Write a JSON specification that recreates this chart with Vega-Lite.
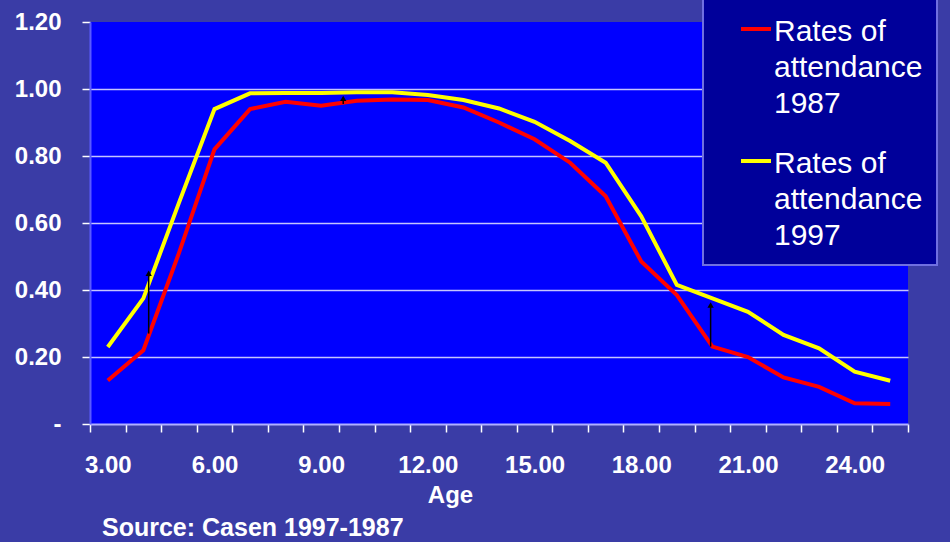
{
  "$schema": "https://vega.github.io/schema/vega-lite/v6.json",
  "autosize": "none",
  "width": 818,
  "height": 402,
  "padding": {"left": 90, "top": 22, "right": 42, "bottom": 118},
  "background": "#3a3ca6",
  "title": {
    "text": "Source: Casen 1997-1987",
    "orient": "bottom",
    "anchor": "start",
    "frame": "group",
    "dx": 12,
    "offset": 9,
    "font": "Liberation Sans",
    "fontSize": 25,
    "fontWeight": "bold",
    "color": "#ffffff"
  },
  "datasets": {
    "rates": [
      {"age": 3, "series": "Rates of attendance 1987", "rate": 0.13},
      {"age": 4, "series": "Rates of attendance 1987", "rate": 0.22},
      {"age": 5, "series": "Rates of attendance 1987", "rate": 0.51},
      {"age": 6, "series": "Rates of attendance 1987", "rate": 0.82},
      {"age": 7, "series": "Rates of attendance 1987", "rate": 0.94},
      {"age": 8, "series": "Rates of attendance 1987", "rate": 0.962},
      {"age": 9, "series": "Rates of attendance 1987", "rate": 0.95},
      {"age": 10, "series": "Rates of attendance 1987", "rate": 0.965},
      {"age": 11, "series": "Rates of attendance 1987", "rate": 0.969},
      {"age": 12, "series": "Rates of attendance 1987", "rate": 0.967},
      {"age": 13, "series": "Rates of attendance 1987", "rate": 0.945},
      {"age": 14, "series": "Rates of attendance 1987", "rate": 0.9},
      {"age": 15, "series": "Rates of attendance 1987", "rate": 0.85},
      {"age": 16, "series": "Rates of attendance 1987", "rate": 0.78},
      {"age": 17, "series": "Rates of attendance 1987", "rate": 0.68},
      {"age": 18, "series": "Rates of attendance 1987", "rate": 0.485},
      {"age": 19, "series": "Rates of attendance 1987", "rate": 0.385},
      {"age": 20, "series": "Rates of attendance 1987", "rate": 0.231},
      {"age": 21, "series": "Rates of attendance 1987", "rate": 0.2},
      {"age": 22, "series": "Rates of attendance 1987", "rate": 0.139},
      {"age": 23, "series": "Rates of attendance 1987", "rate": 0.111},
      {"age": 24, "series": "Rates of attendance 1987", "rate": 0.062},
      {"age": 25, "series": "Rates of attendance 1987", "rate": 0.06},
      {"age": 3, "series": "Rates of attendance 1997", "rate": 0.23},
      {"age": 4, "series": "Rates of attendance 1997", "rate": 0.375},
      {"age": 5, "series": "Rates of attendance 1997", "rate": 0.66},
      {"age": 6, "series": "Rates of attendance 1997", "rate": 0.94},
      {"age": 7, "series": "Rates of attendance 1997", "rate": 0.987},
      {"age": 8, "series": "Rates of attendance 1997", "rate": 0.988},
      {"age": 9, "series": "Rates of attendance 1997", "rate": 0.988},
      {"age": 10, "series": "Rates of attendance 1997", "rate": 0.99},
      {"age": 11, "series": "Rates of attendance 1997", "rate": 0.99},
      {"age": 12, "series": "Rates of attendance 1997", "rate": 0.982},
      {"age": 13, "series": "Rates of attendance 1997", "rate": 0.967},
      {"age": 14, "series": "Rates of attendance 1997", "rate": 0.942},
      {"age": 15, "series": "Rates of attendance 1997", "rate": 0.902},
      {"age": 16, "series": "Rates of attendance 1997", "rate": 0.845},
      {"age": 17, "series": "Rates of attendance 1997", "rate": 0.78},
      {"age": 18, "series": "Rates of attendance 1997", "rate": 0.62},
      {"age": 19, "series": "Rates of attendance 1997", "rate": 0.415},
      {"age": 20, "series": "Rates of attendance 1997", "rate": 0.375},
      {"age": 21, "series": "Rates of attendance 1997", "rate": 0.335},
      {"age": 22, "series": "Rates of attendance 1997", "rate": 0.266},
      {"age": 23, "series": "Rates of attendance 1997", "rate": 0.226},
      {"age": 24, "series": "Rates of attendance 1997", "rate": 0.156},
      {"age": 25, "series": "Rates of attendance 1997", "rate": 0.129}
    ],
    "arrows": [
      {"age": 4.15, "from": 0.27, "to": 0.45},
      {"age": 9.62, "from": 0.955, "to": 0.972},
      {"age": 19.95, "from": 0.231, "to": 0.355}
    ]
  },
  "layer": [
    {
      "data": {"name": "rates"},
      "mark": {"type": "line", "strokeWidth": 4},
      "encoding": {
        "x": {
          "field": "age",
          "type": "quantitative",
          "scale": {"domain": [2.5, 25.5], "nice": false, "zero": false},
          "axis": {
            "values": [2.5, 3.5, 4.5, 5.5, 6.5, 7.5, 8.5, 9.5, 10.5, 11.5, 12.5, 13.5, 14.5, 15.5, 16.5, 17.5, 18.5, 19.5, 20.5, 21.5, 22.5, 23.5, 24.5, 25.5],
            "tickCount": 40,
            "labelExpr": "(datum.value + 0.5) % 3 == 0 && datum.value < 25 ? format(datum.value + 0.5, '.2f') : ''",
            "labelOffset": 17.8,
            "labelOverlap": false,
            "labelFlush": false,
            "labelBaseline": "alphabetic",
            "labelPadding": 40,
            "tickSize": 8,
            "tickWidth": 1.5,
            "tickColor": "#ffffff",
            "domainColor": "#b0b0ff",
            "domainWidth": 2,
            "grid": false,
            "title": "Age",
            "titleX": 360,
            "titleY": 78,
            "titleAlign": "center",
            "titleBaseline": "alphabetic"
          }
        },
        "y": {
          "field": "rate",
          "type": "quantitative",
          "scale": {"domain": [0, 1.2], "nice": false},
          "axis": {
            "values": [0, 0.2, 0.4, 0.6, 0.8, 1.0, 1.2],
            "labelExpr": "datum.value == 0 ? '-\u2002' : format(datum.value, '.2f')",
            "labelFlush": false,
            "labelPadding": 21,
            "tickSize": 8,
            "tickWidth": 1.5,
            "tickColor": "#ffffff",
            "domainColor": "#5a5aff",
            "domainWidth": 2,
            "grid": true,
            "gridColor": "#c4c4ff",
            "gridWidth": 1.5,
            "gridOpacity": {"condition": {"test": "datum.value == 0 || datum.value >= 1.2", "value": 0}, "value": 1},
            "title": null
          }
        },
        "color": {
          "field": "series",
          "type": "nominal",
          "scale": {"domain": ["Rates of attendance 1987", "Rates of attendance 1997"], "range": ["#ff0000", "#ffff00"]},
          "legend": {
            "orient": "none",
            "legendX": 613,
            "legendY": -24,
            "title": null,
            "padding": 14,
            "fillColor": "#00009a",
            "strokeColor": "#7070e0",
            "symbolType": "stroke",
            "symbolSize": 900,
            "symbolStrokeWidth": 4,
            "symbolOffset": 22,
            "labelOffset": 1,
            "labelFont": "Liberation Sans",
            "labelFontSize": 30,
            "labelFontWeight": "normal",
            "labelColor": "#ffffff",
            "labelLimit": 400,
            "rowPadding": 25,
            "labelExpr": "['Rates of', 'attendance', slice(datum.label, -4)]",
            "encode": {
              "legend": {
                "update": {
                  "strokeWidth": {"value": 2}
                }
              },
              "labels": {
                "update": {
                  "baseline": {"value": "top"},
                  "dy": {"value": -12},
                  "lineHeight": {"value": 36}
                }
              }
            }
          }
        }
      }
    },
    {
      "data": {"name": "arrows"},
      "mark": {"type": "rule", "color": "#000000", "strokeWidth": 1.5},
      "encoding": {
        "x": {"field": "age", "type": "quantitative"},
        "y": {"field": "from", "type": "quantitative"},
        "y2": {"field": "to"}
      }
    },
    {
      "data": {"name": "arrows"},
      "mark": {"type": "point", "shape": "triangle-up", "filled": true, "color": "#000000", "size": 40, "opacity": 1},
      "encoding": {
        "x": {"field": "age", "type": "quantitative"},
        "y": {"field": "to", "type": "quantitative"}
      }
    }
  ],
  "config": {
    "view": {"fill": "#0000ff", "stroke": null},
    "axis": {
      "labelFont": "Liberation Sans",
      "labelFontSize": 24,
      "labelFontWeight": "bold",
      "labelColor": "#ffffff",
      "titleFont": "Liberation Sans",
      "titleFontSize": 24,
      "titleFontWeight": "bold",
      "titleColor": "#ffffff"
    }
  }
}
